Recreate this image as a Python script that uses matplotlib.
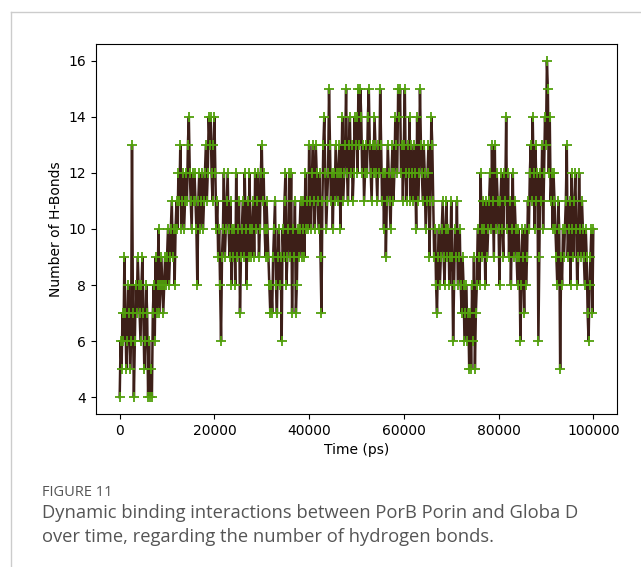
import matplotlib
matplotlib.use("Agg")
import matplotlib.pyplot as plt
from matplotlib.lines import Line2D
import numpy as np

# Time step of the trajectory (ps)
time_step = 200
# Number of H-bonds per frame (0..100000 ps)
hbonds = [
    4, 6, 5, 7, 6, 9, 7, 5, 6, 8,
    7, 5, 6, 13, 7, 4, 6, 8, 7, 9,
    8, 7, 6, 8, 9, 7, 5, 6, 8, 7,
    4, 6, 4, 5, 4, 7, 8, 6, 9, 7,
    8, 10, 7, 8, 9, 8, 7, 8, 9, 8,
    9, 10, 8, 9, 10, 11, 9, 10, 8, 10,
    11, 10, 12, 11, 13, 10, 11, 12, 10, 11,
    12, 11, 13, 14, 12, 11, 10, 12, 11, 12,
    11, 10, 8, 11, 12, 10, 11, 12, 10, 11,
    12, 13, 11, 12, 14, 13, 14, 12, 11, 13,
    14, 12, 10, 11, 9, 10, 8, 6, 9, 10,
    12, 9, 10, 11, 12, 10, 9, 11, 8, 10,
    9, 10, 8, 12, 9, 10, 11, 7, 9, 10,
    11, 9, 12, 10, 8, 11, 9, 12, 10, 9,
    10, 11, 9, 12, 10, 11, 12, 9, 10, 12,
    13, 11, 12, 10, 9, 11, 10, 9, 8, 7,
    8, 7, 9, 10, 11, 8, 7, 9, 10, 8,
    9, 6, 10, 9, 11, 12, 8, 9, 10, 12,
    9, 12, 7, 10, 9, 11, 7, 8, 10, 9,
    10, 11, 9, 10, 11, 9, 12, 10, 11, 10,
    13, 11, 10, 12, 13, 11, 10, 13, 12, 11,
    10, 12, 9, 7, 11, 13, 14, 12, 10, 11,
    12, 15, 13, 11, 12, 10, 12, 11, 13, 12,
    11, 12, 13, 10, 12, 14, 11, 12, 13, 15,
    12, 11, 13, 14, 12, 13, 11, 12, 14, 13,
    14, 12, 15, 13, 15, 14, 12, 13, 11, 12,
    13, 12, 14, 15, 13, 12, 11, 13, 12, 14,
    13, 12, 11, 13, 12, 15, 13, 11, 12, 10,
    12, 9, 11, 13, 12, 11, 10, 12, 13, 11,
    12, 14, 13, 12, 15, 14, 15, 12, 13, 11,
    13, 15, 12, 11, 13, 12, 14, 11, 13, 12,
    11, 13, 12, 10, 14, 11, 12, 15, 13, 12,
    11, 13, 12, 10, 11, 12, 13, 9, 11, 14,
    13, 11, 9, 10, 8, 7, 9, 10, 8, 9,
    10, 11, 9, 8, 10, 11, 9, 10, 8, 9,
    11, 9, 6, 8, 10, 9, 11, 8, 9, 10,
    8, 7, 9, 8, 6, 7, 8, 6, 7, 5,
    7, 5, 8, 6, 9, 5, 7, 8, 10, 9,
    8, 12, 10, 9, 11, 10, 8, 11, 9, 10,
    11, 12, 10, 13, 11, 9, 13, 10, 12, 11,
    10, 8, 11, 12, 10, 9, 12, 11, 14, 10,
    12, 9, 11, 8, 10, 12, 9, 11, 10, 9,
    8, 10, 9, 6, 8, 10, 9, 7, 10, 8,
    9, 11, 10, 12, 13, 11, 14, 12, 10, 13,
    11, 12, 6, 9, 12, 11, 13, 10, 12, 14,
    13, 16, 15, 12, 14, 11, 12, 10, 12, 11,
    10, 9, 8, 11, 10, 5, 9, 8, 10, 9,
    10, 11, 13, 9, 10, 11, 8, 12, 10, 9,
    11, 12, 10, 8, 9, 12, 10, 9, 11, 10,
    9, 8, 10, 9, 7, 6, 8, 9, 10, 7,
    10,
]
time_ps = np.arange(len(hbonds)) * time_step

x_label = "Time (ps)"
y_label = "Number of H-Bonds"
fig_title = "FIGURE 11"
caption_lines = ["Dynamic binding interactions between PorB Porin and Globa D",
                 "over time, regarding the number of hydrogen bonds."]

fig = plt.figure(figsize=(6.41, 5.67), dpi=100)
ax = fig.add_axes([96/641, 1-414/567, (617-96)/641, (414-44)/567])
ax.plot(time_ps, hbonds, color="#3d1f18", lw=1.8, marker="+",
        markersize=6.5, markeredgewidth=1.3, markeredgecolor="#52a00c")
ax.set_xticks([0, 20000, 40000, 60000, 80000, 100000])
ax.set_yticks([4, 6, 8, 10, 12, 14, 16])
ax.tick_params(labelsize=10)
ax.set_xlabel(x_label, fontsize=10)
ax.set_ylabel(y_label, fontsize=10)

# page frame lines
fig.add_artist(Line2D([11/641, 1.0], [1-12/567, 1-12/567], color="#cccccc", lw=1))
fig.add_artist(Line2D([11/641, 11/641], [0, 1-12/567], color="#cccccc", lw=1))

fig.text(42/641, 1-492/567, fig_title, fontsize=10.5, color="#555555",
         family="Open Sans", va="center", ha="left")
fig.text(42/641, 1-513/567, caption_lines[0], fontsize=13.2, color="#555555",
         family="Open Sans", va="center", ha="left")
fig.text(42/641, 1-537/567, caption_lines[1], fontsize=13.2, color="#555555",
         family="Open Sans", va="center", ha="left")

fig.savefig("out.png", dpi=100)
